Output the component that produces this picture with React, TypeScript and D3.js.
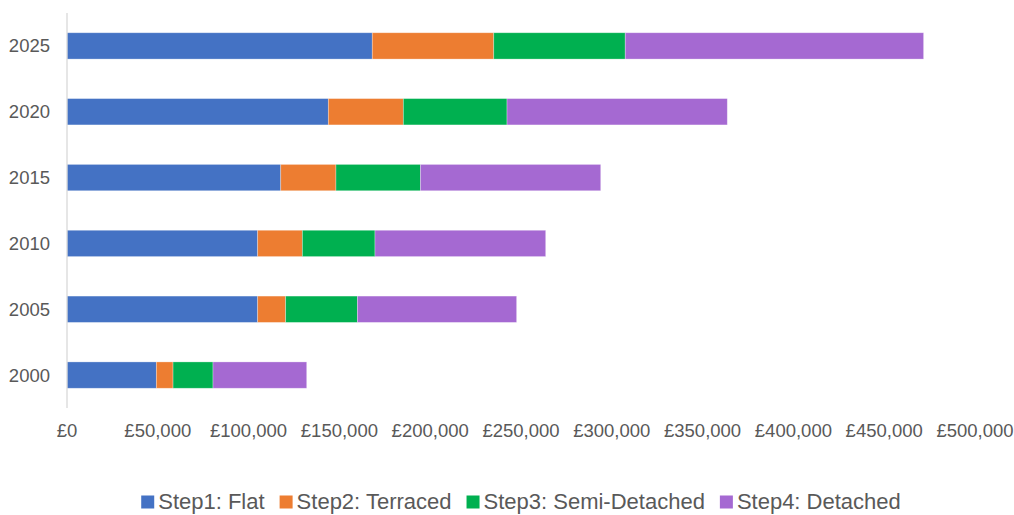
import React, { useRef, useEffect } from 'react';
import * as d3 from 'd3';

// Years, top to bottom as shown
const years = ['2025', '2020', '2015', '2010', '2005', '2000'];

// Cost of each step (GBP)
const flat = [168100, 143900, 117700, 105000, 105000, 49200];
const terraced = [66900, 41300, 30400, 24600, 15400, 9200];
const semiDetached = [72400, 57100, 46500, 40000, 39500, 22000];
const detached = [164300, 121300, 99300, 94000, 87700, 51600];

const seriesNames = ['Step1: Flat', 'Step2: Terraced', 'Step3: Semi-Detached', 'Step4: Detached'];
const seriesColors = ['#4472C4', '#ED7D31', '#00B050', '#A569D2'];
const xTicks = [0, 50000, 100000, 150000, 200000, 250000, 300000, 350000, 400000, 450000, 500000];

const App = () => {
  const svgRef = useRef<SVGSVGElement>(null);
  const width = 1014;
  const height = 515;

  useEffect(() => {
    const svg = d3.select(svgRef.current);
    svg.selectAll('*').remove();

    const margin = { top: 13, right: 39, bottom: 107, left: 67 };
    const innerWidth = width - margin.left - margin.right;
    const innerHeight = height - margin.top - margin.bottom;
    const font = '"Liberation Sans", Arial, sans-serif';
    const textColor = '#595959';

    const g = svg.append('g').attr('transform', `translate(${margin.left},${margin.top})`);

    const rows = years.map((y, i) => ({
      year: y,
      s0: flat[i],
      s1: terraced[i],
      s2: semiDetached[i],
      s3: detached[i],
    }));
    const keys = ['s0', 's1', 's2', 's3'];
    const stacked = d3.stack<any>().keys(keys)(rows);

    const xScale = d3.scaleLinear().domain([0, 500000]).range([0, innerWidth]);
    const yScale = d3.scaleBand().domain(years).range([0, innerHeight]).paddingInner(0.6).paddingOuter(0.3);

    // Bars
    stacked.forEach((layer, k) => {
      g.append('g')
        .selectAll('rect')
        .data(layer)
        .join('rect')
        .attr('x', d => xScale(d[0]))
        .attr('y', d => yScale(d.data.year)!)
        .attr('width', d => xScale(d[1]) - xScale(d[0]))
        .attr('height', yScale.bandwidth())
        .attr('fill', seriesColors[k])
        .attr('stroke', '#ffffff')
        .attr('stroke-opacity', 0.4)
        .attr('stroke-width', 0.75);
    });

    // Vertical axis line
    g.append('line')
      .attr('x1', 0)
      .attr('x2', 0)
      .attr('y1', 0)
      .attr('y2', innerHeight)
      .attr('stroke', '#D9D9D9')
      .attr('stroke-width', 1.3);

    // Year labels
    g.selectAll('.ylab')
      .data(years)
      .join('text')
      .attr('x', -17)
      .attr('y', d => yScale(d)! + yScale.bandwidth() / 2)
      .attr('dy', '0.35em')
      .attr('text-anchor', 'end')
      .attr('font-family', font)
      .attr('font-size', 18.5)
      .attr('fill', textColor)
      .text(d => d);

    // X tick labels
    const fmt = (v: number) => '£' + d3.format(',')(v);
    g.selectAll('.xlab')
      .data(xTicks)
      .join('text')
      .attr('x', d => xScale(d))
      .attr('y', innerHeight + 29)
      .attr('text-anchor', 'middle')
      .attr('font-family', font)
      .attr('font-size', 18.5)
      .attr('fill', textColor)
      .text(d => fmt(d));

    // Legend
    const legend = svg.append('g');
    const box = 13;
    const gapText = 4;
    const gapItem = 15;
    let cursor = 0;
    seriesNames.forEach((name, k) => {
      const item = legend.append('g').attr('transform', `translate(${cursor},0)`);
      item.append('rect')
        .attr('x', 0)
        .attr('y', -13.5)
        .attr('width', box)
        .attr('height', box)
        .attr('fill', seriesColors[k]);
      const t = item.append('text')
        .attr('x', box + gapText)
        .attr('y', 0)
        .attr('font-family', font)
        .attr('font-size', 22)
        .attr('fill', textColor)
        .text(name);
      const w = (t.node() as SVGTextElement).getComputedTextLength();
      cursor += box + gapText + w + gapItem;
    });
    const total = cursor - gapItem;
    legend.attr('transform', `translate(${margin.left + innerWidth / 2 - total / 2},509)`);
  }, []);

  return (
    <svg
      ref={svgRef}
      width={width}
      height={height}
      style={{ position: 'absolute', left: 0, top: 0, background: '#fff' }}
    ></svg>
  );
};

export default App;
